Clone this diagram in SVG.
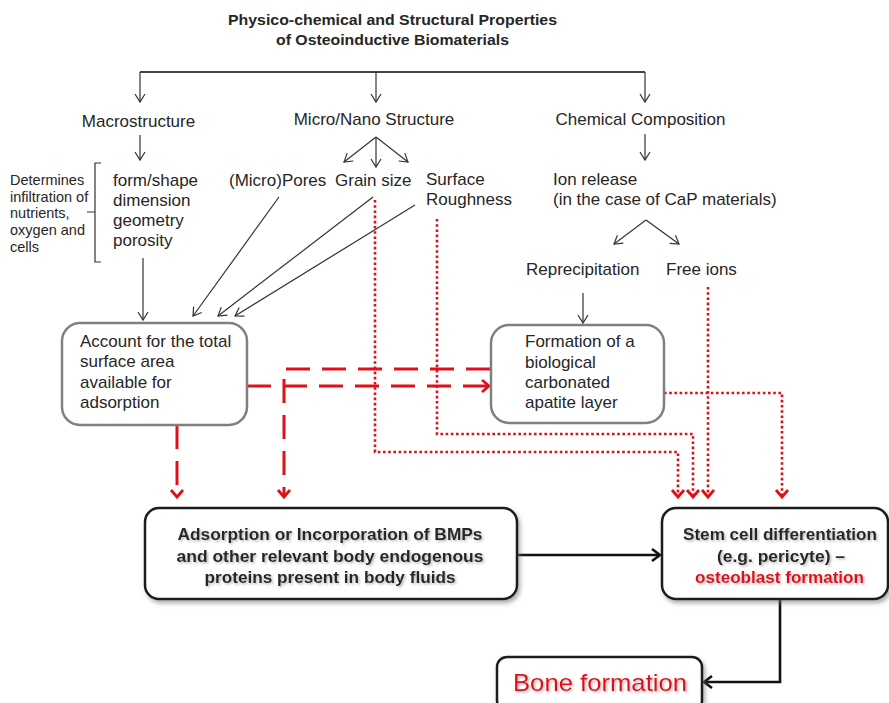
<svg xmlns="http://www.w3.org/2000/svg" width="889" height="703" viewBox="0 0 889 703">
<defs>
<style>
text{font-family:"Liberation Sans",Arial,sans-serif;fill:#262626}
.t{font-size:17px}
.s{font-size:14.5px}
.title{font-size:15px;font-weight:bold;text-anchor:middle}
.b{font-size:17px;font-weight:bold;text-anchor:middle}
.red{fill:#e0101a}
.thin{fill:none;stroke:#333;stroke-width:1.2}
.bar{fill:none;stroke:#444;stroke-width:2}
.dash{fill:none;stroke:#e0101a;stroke-width:3;stroke-dasharray:24 12}
.dot{fill:none;stroke:#e0101a;stroke-width:2.6;stroke-dasharray:2.6 2.6}
.blk{fill:none;stroke:#111;stroke-width:2.6}
.gbox{fill:#fff;stroke:#808080;stroke-width:2.5}
.kbox{fill:#fff;stroke:#1a1a1a;stroke-width:2.5}
</style>
<marker id="ah" markerUnits="userSpaceOnUse" markerWidth="20" markerHeight="20" refX="0" refY="0" orient="auto" overflow="visible"><path d="M-8,-5 L0,0 L-8,5" fill="none" stroke="#333" stroke-width="1.2"/></marker>
<marker id="ar" markerUnits="userSpaceOnUse" markerWidth="20" markerHeight="20" refX="0" refY="0" orient="auto" overflow="visible"><path d="M-7,-6 L0,0 L-7,6" fill="none" stroke="#e0101a" stroke-width="2.8"/></marker>
<marker id="ak" markerUnits="userSpaceOnUse" markerWidth="20" markerHeight="20" refX="0" refY="0" orient="auto" overflow="visible"><path d="M-8,-6 L0,0 L-8,6" fill="none" stroke="#111" stroke-width="2.6"/></marker>
<filter id="sh" x="-10%" y="-10%" width="125%" height="130%"><feDropShadow dx="2" dy="3" stdDeviation="2" flood-color="#777" flood-opacity="0.6"/></filter>
<filter id="tsh" x="-5%" y="-20%" width="110%" height="150%"><feDropShadow dx="1.5" dy="1.5" stdDeviation="1" flood-color="#888" flood-opacity="0.6"/></filter>
</defs>
<rect width="889" height="703" fill="#fff"/>

<g id="title">
<text class="title" x="392.5" y="25" textLength="329" lengthAdjust="spacingAndGlyphs">Physico-chemical and Structural Properties</text>
<text class="title" x="392.5" y="45" textLength="233" lengthAdjust="spacingAndGlyphs">of Osteoinductive Biomaterials</text>
</g>

<g id="connectors">
<path class="bar" d="M140,72 H645"/>
<path class="thin" d="M140,72 V102" marker-end="url(#ah)"/>
<path class="thin" d="M376,72 V102" marker-end="url(#ah)"/>
<path class="thin" d="M645,72 V102" marker-end="url(#ah)"/>
<path class="thin" d="M140,135 V160" marker-end="url(#ah)"/>
<path class="thin" d="M376,137 L344,162" marker-end="url(#ah)"/>
<path class="thin" d="M376,137 V167" marker-end="url(#ah)"/>
<path class="thin" d="M376,137 L408,162" marker-end="url(#ah)"/>
<path class="thin" d="M645,134 V160" marker-end="url(#ah)"/>
<path class="thin" d="M646,220 L614,244" marker-end="url(#ah)"/>
<path class="thin" d="M646,220 L679,244" marker-end="url(#ah)"/>
<path class="thin" d="M583,293 V323" marker-end="url(#ah)"/>
<path class="thin" d="M143,258 V320" marker-end="url(#ah)"/>
<path class="thin" d="M279,197 L193,316" marker-end="url(#ah)"/>
<path class="thin" d="M373,197 L218,316" marker-end="url(#ah)"/>
<path class="thin" d="M415,205 L235,316" marker-end="url(#ah)"/>
<path class="dot" d="M375,200 V452 H678 V497" marker-end="url(#ar)"/>
<path class="dot" d="M437,219 V434 H693 V497" marker-end="url(#ar)"/>
<path class="dot" d="M708,287 V497" marker-end="url(#ar)"/>
<path class="dot" d="M664,393 H782 V497" marker-end="url(#ar)"/>
<path class="dash" d="M247,386 H489" marker-end="url(#ar)"/>
<path class="dash" d="M490,369 H284 V497" marker-end="url(#ar)"/>
<path class="dash" d="M177,425 V497" marker-end="url(#ar)"/>
<path class="blk" d="M517,555 H660" marker-end="url(#ak)"/>
<path class="blk" d="M780,599 V682 H704" marker-end="url(#ak)"/>
</g>

<g id="macrostructure"><text class="t" x="138.5" y="127" text-anchor="middle">Macrostructure</text></g>
<g id="micronano"><text class="t" x="374" y="125" text-anchor="middle">Micro/Nano Structure</text></g>
<g id="chemical"><text class="t" x="640.5" y="125" text-anchor="middle">Chemical Composition</text></g>

<g id="determines">
<text class="s" x="10" y="185">Determines</text>
<text class="s" x="10" y="201.5">infiltration of</text>
<text class="s" x="10" y="218">nutrients,</text>
<text class="s" x="10" y="235">oxygen and</text>
<text class="s" x="10" y="251.5">cells</text>
<path class="thin" d="M101,163 H95 V262 H101 M95,212 H87"/>
</g>

<g id="macro-props">
<text class="t" x="113" y="186">form/shape</text>
<text class="t" x="113" y="206">dimension</text>
<text class="t" x="113" y="226">geometry</text>
<text class="t" x="113" y="246">porosity</text>
</g>
<g id="pores"><text class="t" x="229" y="186">(Micro)Pores</text></g>
<g id="grain"><text class="t" x="335" y="186">Grain size</text></g>
<g id="roughness"><text class="t" x="426" y="185">Surface</text><text class="t" x="426" y="205">Roughness</text></g>
<g id="ion-release"><text class="t" x="553" y="185">Ion release</text><text class="t" x="553" y="205">(in the case of CaP materials)</text></g>
<g id="reprecipitation"><text class="t" x="526" y="275">Reprecipitation</text></g>
<g id="free-ions"><text class="t" x="666" y="275">Free ions</text></g>

<g id="surface-area">
<rect class="gbox" x="62" y="323" width="185" height="102" rx="18"/>
<text class="t" x="80" y="347">Account for the total</text>
<text class="t" x="80" y="367">surface area</text>
<text class="t" x="80" y="388">available for</text>
<text class="t" x="80" y="408">adsorption</text>
</g>

<g id="apatite">
<rect class="gbox" x="491" y="325" width="173" height="98" rx="18"/>
<text class="t" x="525" y="347">Formation of a</text>
<text class="t" x="525" y="368">biological</text>
<text class="t" x="525" y="388">carbonated</text>
<text class="t" x="525" y="408">apatite layer</text>
</g>

<g id="adsorption">
<rect class="kbox" x="145" y="508" width="372" height="91" rx="14" filter="url(#sh)"/>
<g filter="url(#tsh)">
<text class="b" x="330" y="540" textLength="305" lengthAdjust="spacingAndGlyphs">Adsorption or Incorporation of BMPs</text>
<text class="b" x="330" y="562" textLength="307" lengthAdjust="spacingAndGlyphs">and other relevant body endogenous</text>
<text class="b" x="330" y="583" textLength="251" lengthAdjust="spacingAndGlyphs">proteins present in body fluids</text>
</g>
</g>

<g id="stem-cell">
<rect class="kbox" x="662" y="508" width="226" height="91" rx="14" filter="url(#sh)"/>
<g filter="url(#tsh)">
<text class="b" x="780" y="540" textLength="194" lengthAdjust="spacingAndGlyphs">Stem cell  differentiation</text>
<text class="b" x="781" y="562" textLength="128" lengthAdjust="spacingAndGlyphs">(e.g. pericyte) –</text>
<text class="b red" x="779.5" y="583" textLength="169" lengthAdjust="spacingAndGlyphs">osteoblast formation</text>
</g>
</g>

<g id="bone">
<rect class="kbox" x="497" y="657" width="205" height="54" rx="10" filter="url(#sh)"/>
<text class="red" x="513" y="691" font-size="24" textLength="174" lengthAdjust="spacingAndGlyphs" filter="url(#tsh)">Bone formation</text>
</g>
</svg>
